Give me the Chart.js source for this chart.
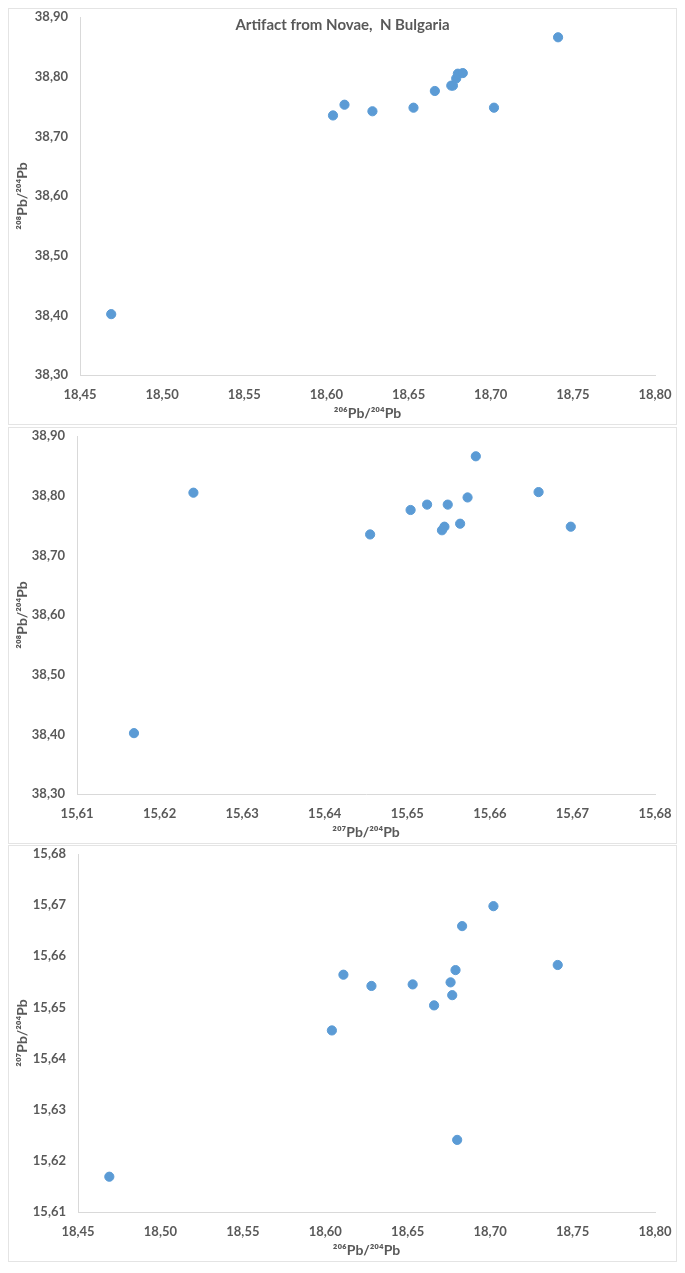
<!DOCTYPE html>
<html>
<head>
<meta charset="utf-8">
<script src="https://cdn.jsdelivr.net/npm/chart.js@4.4.1/dist/chart.umd.min.js"></script>
<style>
  html, body { margin: 0; padding: 0; background: #ffffff; }
  body { width: 685px; height: 1273px; position: relative; overflow: hidden; }
  .panel { position: absolute; left: 8px; width: 667px; height: 415px; border: 1px solid #e4e4e4; background: #fff; }
  .panel canvas { display: block; }
</style>
</head>
<body>
<div class="panel" style="top:8px"><canvas id="c1" width="667" height="415"></canvas></div>
<div class="panel" style="top:427px"><canvas id="c2" width="667" height="415"></canvas></div>
<div class="panel" style="top:845px"><canvas id="c3" width="667" height="415"></canvas></div>
<script>
// ---- Data (13 samples, lead isotope ratios) ----
const pb206 = [18.469, 18.604, 18.611, 18.628, 18.653, 18.666, 18.676, 18.677, 18.679, 18.680, 18.683, 18.702, 18.741];
const pb207 = [15.6169, 15.6455, 15.6564, 15.6542, 15.6545, 15.6504, 15.6549, 15.6524, 15.6573, 15.6241, 15.6659, 15.6698, 15.6583];
const pb208 = [38.402, 38.735, 38.753, 38.742, 38.748, 38.776, 38.785, 38.785, 38.797, 38.805, 38.806, 38.748, 38.866];

// ---- Tick values ----
const ticks206 = [18.45, 18.50, 18.55, 18.60, 18.65, 18.70, 18.75, 18.80];
const ticks207 = [15.61, 15.62, 15.63, 15.64, 15.65, 15.66, 15.67, 15.68];
const ticks208 = [38.30, 38.40, 38.50, 38.60, 38.70, 38.80, 38.90];

// ---- Texts ----
const chartTitle = 'Artifact from Novae,  N Bulgaria';
const label206 = '\u00B2\u2070\u2076Pb/\u00B2\u2070\u2074Pb';
const label207 = '\u00B2\u2070\u2077Pb/\u00B2\u2070\u2074Pb';
const label208 = '\u00B2\u2070\u2078Pb/\u00B2\u2070\u2074Pb';

const TEXT = '#595959';
const AXIS = '#d9d9d9';
const DOT = '#5b9bd5';
const FONT = 'Lato, "Open Sans", "DejaVu Sans", sans-serif';

function fmt(v) { return Number(v).toFixed(2).replace('.', ','); }

const titlePlugin = {
  id: 'insideTitle',
  afterDraw(chart, args, opts) {
    if (!opts || !opts.text) return;
    const ctx = chart.ctx;
    ctx.save();
    ctx.font = 'bold 15px ' + FONT;
    ctx.fillStyle = TEXT;
    ctx.textAlign = 'center';
    ctx.textBaseline = 'middle';
    ctx.fillText(opts.text, chart.width / 2, opts.y);
    ctx.restore();
  }
};

function zeroPad(s) { s.paddingTop = 0; s.paddingBottom = 0; s.paddingLeft = 0; s.paddingRight = 0; }

function makeChart(id, xs, ys, xTicks, yTicks, xTitle, yTitle, yAxisWidth, title) {
  const pts = xs.map((x, i) => ({ x: x, y: ys[i] }));
  const tickFont = { family: FONT, size: 13, weight: 'bold' };
  const titleFont = { family: FONT, size: 14, weight: 'bold' };
  return new Chart(document.getElementById(id), {
    type: 'scatter',
    data: { datasets: [{ data: pts, backgroundColor: DOT, borderColor: DOT, pointRadius: 4.6, pointHoverRadius: 4.6, borderWidth: 1 }] },
    plugins: [titlePlugin],
    options: {
      responsive: false,
      animation: false,
      devicePixelRatio: 1,
      layout: { padding: { top: 8, right: 21, bottom: 0, left: 0 } },
      plugins: {
        legend: { display: false },
        tooltip: { enabled: false },
        insideTitle: { text: title, y: 16 }
      },
      scales: {
        x: {
          type: 'linear',
          min: xTicks[0], max: xTicks[xTicks.length - 1],
          afterBuildTicks: s => { s.ticks = xTicks.map(v => ({ value: v })); },
          afterFit: s => { s.height = 49; zeroPad(s); },
          grid: { display: false, drawTicks: false },
          border: { display: true, color: AXIS, width: 1 },
          ticks: { padding: 12, color: TEXT, font: tickFont, maxRotation: 0, autoSkip: false, callback: v => fmt(v) },
          title: { display: true, text: xTitle, color: TEXT, font: titleFont, padding: { top: 0, bottom: 2 } }
        },
        y: {
          type: 'linear',
          min: yTicks[0], max: yTicks[yTicks.length - 1],
          afterBuildTicks: s => { s.ticks = yTicks.map(v => ({ value: v })); },
          afterFit: s => { s.width = yAxisWidth; zeroPad(s); },
          grid: { display: false, drawTicks: false },
          border: { display: true, color: AXIS, width: 1 },
          ticks: { padding: 12, color: TEXT, font: tickFont, autoSkip: false, callback: v => fmt(v) },
          title: { display: true, text: yTitle, color: TEXT, font: titleFont, padding: { top: 5, bottom: 0 } }
        }
      }
    }
  });
}

makeChart('c1', pb206, pb208, ticks206, ticks208, label206, label208, 71, chartTitle);
makeChart('c2', pb207, pb208, ticks207, ticks208, label207, label208, 68, '');
makeChart('c3', pb206, pb207, ticks206, ticks207, label206, label207, 69, '');
</script>
</body>
</html>
